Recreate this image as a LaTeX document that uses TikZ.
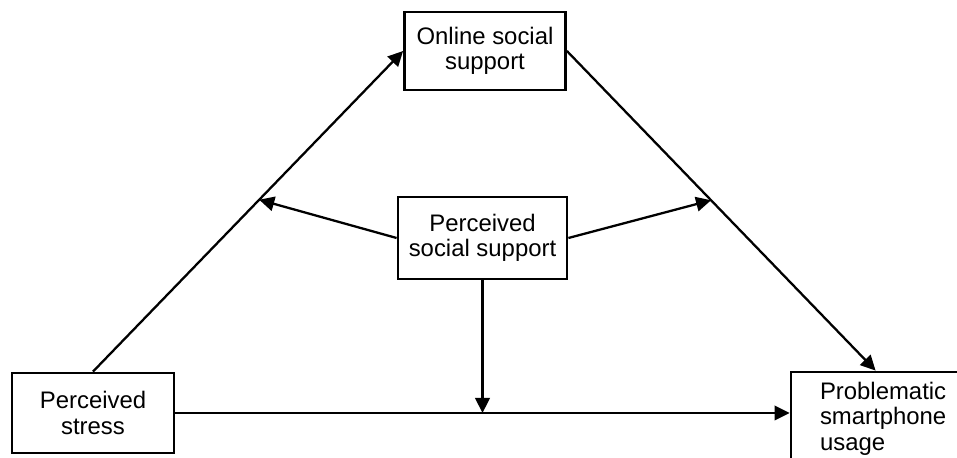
\documentclass[tikz,border=0pt]{standalone}
\usepackage{fontspec}
\setmainfont{Liberation Sans}
\usepackage{tikz}
\usetikzlibrary{arrows.meta,calc}
\tikzset{
  varbox/.style={rectangle,draw=black,line width=1.6pt,align=center,inner sep=1pt,fill=white},
  patharrow/.style={-{Triangle[length=3mm,width=2.9mm]},line width=1.3pt,draw=black}
}

\begin{document}
\begin{tikzpicture}[font=\fontsize{13.6}{14.6}\selectfont]
  \clip (0,0) rectangle (19.14,9.16);
  \node[varbox,minimum width=3.22cm,minimum height=1.56cm] (online) at (9.70,8.14) {Online social\\support};
  \node[varbox,minimum width=3.38cm,minimum height=1.64cm] (pss) at (9.65,4.40) {Perceived\\social support};
  \node[varbox,minimum width=3.24cm,minimum height=1.60cm] (stress) at (1.86,0.90) {Perceived\\stress};
  \node[varbox,align=left,text width=2.7cm,inner xsep=0.58cm,minimum height=1.86cm] (psu) at (17.75,0.79) {Problematic\\smartphone\\usage};
  \coordinate (psutop) at ([xshift=1.72cm]psu.north west);
  \coordinate (lmid) at ($(stress.north)!0.536!(online.west)$);
  \coordinate (rmid) at ($(online.east)!0.467!(psutop)$);
  \draw[patharrow] (stress.north) -- (online.west);
  \draw[patharrow] (online.east) -- (psutop);
  \draw[patharrow] (stress.east) -- (stress.east -| psu.west);
  \draw[patharrow] (pss.west) -- (lmid);
  \draw[patharrow] (pss.east) -- (rmid);
  \draw[patharrow] (pss.south) -- (pss.south |- stress.east);
\end{tikzpicture}
\end{document}
